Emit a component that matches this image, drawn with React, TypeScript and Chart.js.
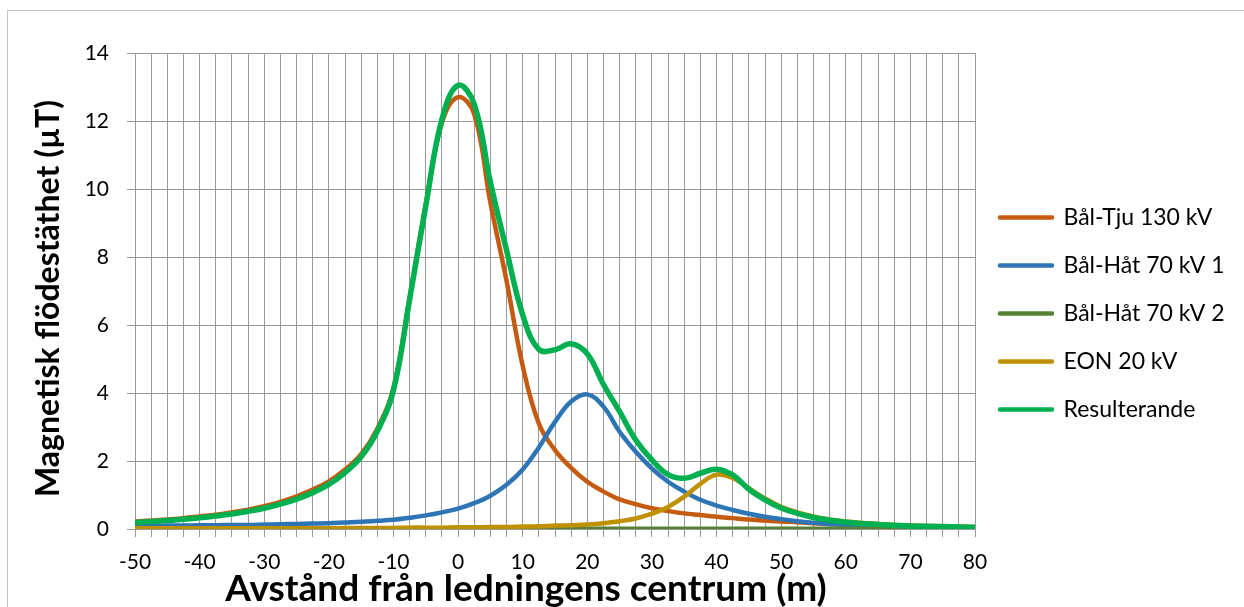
import React, { useEffect, useRef } from 'react';
import { Chart, registerables } from 'chart.js';

Chart.register(...registerables);

// ---------- data ----------
const distances = [
  -50, -47.5, -45, -42.5, -40, -37.5, -35, -32.5, -30, -27.5, -25, -22.5, -20, -17.5, -15, -12.5,
  -10, -7.5, -5, -2.5, 0, 2.5, 5, 7.5, 10, 12.5, 15, 17.5, 20, 22.5, 25, 27.5, 30, 32.5, 35, 37.5,
  40, 42.5, 45, 47.5, 50, 52.5, 55, 57.5, 60, 62.5, 65, 67.5, 70, 72.5, 75, 77.5, 80,
];

const balTju130 = [
  0.22, 0.25, 0.28, 0.32, 0.37, 0.42, 0.49, 0.57, 0.67, 0.8, 0.96, 1.16, 1.4, 1.75, 2.2, 2.95,
  4.15, 6.8, 9.55, 11.95, 12.7, 12.2, 9.6, 7.3, 4.8, 3.1, 2.32, 1.8, 1.39, 1.1, 0.87, 0.73,
  0.61, 0.53, 0.46, 0.41, 0.36, 0.32, 0.28, 0.25, 0.22, 0.2, 0.17, 0.15, 0.13, 0.12, 0.1, 0.09,
  0.08, 0.07, 0.06, 0.06, 0.05,
];

const balHat70_1 = [
  0.09, 0.09, 0.1, 0.1, 0.11, 0.11, 0.12, 0.12, 0.13, 0.14, 0.15, 0.16, 0.17, 0.19, 0.21, 0.24,
  0.27, 0.33, 0.4, 0.49, 0.6, 0.76, 0.98, 1.3, 1.75, 2.4, 3.15, 3.75, 3.96, 3.6, 2.86, 2.27,
  1.78, 1.39, 1.1, 0.86, 0.69, 0.56, 0.45, 0.36, 0.29, 0.23, 0.18, 0.15, 0.12, 0.1, 0.09, 0.07,
  0.06, 0.06, 0.05, 0.05, 0.04,
];

const balHat70_2 = [
  0.01, 0.01, 0.01, 0.01, 0.01, 0.01, 0.01, 0.01, 0.01, 0.01, 0.01, 0.01, 0.01, 0.01, 0.01, 0.01,
  0.01, 0.01, 0.01, 0.01, 0.01, 0.01, 0.01, 0.01, 0.01, 0.01, 0.01, 0.01, 0.01, 0.01, 0.01, 0.01,
  0.01, 0.01, 0.01, 0.01, 0.01, 0.01, 0.01, 0.01, 0.01, 0.01, 0.01, 0.01, 0.01, 0.01, 0.01, 0.01,
  0.01, 0.01, 0.01, 0.01, 0.01,
];

const eon20 = [
  0.02, 0.02, 0.02, 0.02, 0.02, 0.02, 0.02, 0.02, 0.02, 0.02, 0.02, 0.02, 0.02, 0.03, 0.03, 0.03,
  0.03, 0.04, 0.04, 0.04, 0.05, 0.05, 0.06, 0.06, 0.07, 0.08, 0.1, 0.11, 0.13, 0.17, 0.23, 0.31,
  0.45, 0.65, 0.95, 1.33, 1.6, 1.5, 1.2, 0.9, 0.65, 0.49, 0.37, 0.28, 0.22, 0.18, 0.15, 0.12,
  0.1, 0.09, 0.08, 0.07, 0.06,
];

const resulterande = [
  0.19, 0.22, 0.25, 0.29, 0.33, 0.38, 0.44, 0.52, 0.61, 0.73, 0.88, 1.07, 1.31, 1.66, 2.12, 2.87,
  4.08, 6.75, 9.5, 12.05, 13.05, 12.5, 10.2, 8.2, 6.3, 5.28, 5.27, 5.45, 5.15, 4.25, 3.45, 2.62,
  2.03, 1.6, 1.49, 1.64, 1.76, 1.59, 1.17, 0.86, 0.62, 0.46, 0.34, 0.26, 0.2, 0.16, 0.13, 0.11,
  0.09, 0.08, 0.07, 0.06, 0.05,
];

const seriesNames = ['Bål-Tju 130 kV', 'Bål-Håt 70 kV 1', 'Bål-Håt 70 kV 2', 'EON 20 kV', 'Resulterande'];
const seriesValues = [balTju130, balHat70_1, balHat70_2, eon20, resulterande];
const seriesColors = ['#C55A11', '#2E75B6', '#548235', '#BF9000', '#00B050'];
const seriesWidths = [4.5, 4.5, 4.5, 4.5, 5.5];

const xTitle = 'Avstånd från ledningens centrum (m)';
const yTitle = 'Magnetisk flödestäthet (µT)';

// ---------- layout constants ----------
const W = 1244;
const H = 607;
const AREA_LEFT = 135;
const AREA_RIGHT = 975;
const AREA_TOP = 53;
const AREA_BOTTOM = 529;
const LEGEND_CENTER = 313.5;
const LEG_FONT = 23;
const LEG_PAD = 25;
const LEG_BOX = 52;
const TICK_FONT = 21;
const FONT = 'Lato';

const axisTitlePlugin = {
  id: 'axisTitles',
  afterDraw(chart: any) {
    const ctx = chart.ctx as CanvasRenderingContext2D;
    ctx.save();
    ctx.fillStyle = '#000';
    ctx.textAlign = 'center';
    ctx.textBaseline = 'alphabetic';
    ctx.font = `bold 37px ${FONT}`;
    ctx.fillText(xTitle, 526, 601);
    ctx.font = `bold 32px ${FONT}`;
    ctx.translate(59, 298.5);
    ctx.rotate(-Math.PI / 2);
    ctx.fillText(yTitle, 0, 0);
    ctx.restore();
  },
};

export default function App() {
  const ref = useRef<HTMLCanvasElement>(null);

  useEffect(() => {
    const canvas = ref.current;
    if (!canvas) return;

    const mctx = document.createElement('canvas').getContext('2d')!;
    mctx.font = `${LEG_FONT}px ${FONT}`;
    const maxText = Math.max(...seriesNames.map((t) => mctx.measureText(t).width));
    const legendWidth = LEG_PAD + (LEG_BOX + LEG_FONT / 2 + maxText) + 10;
    const padRight = W - AREA_RIGHT - legendWidth;
    const legendBottom = 2 * LEGEND_CENTER - AREA_TOP;
    const padBottom = H - legendBottom;
    const xAxisHeight = legendBottom - AREA_BOTTOM;

    const datasets = seriesNames.map((name, i) => ({
      label: name,
      data: distances.map((x, j) => ({ x, y: seriesValues[i][j] })),
      borderColor: seriesColors[i],
      backgroundColor: seriesColors[i],
      borderWidth: seriesWidths[i],
      pointRadius: 0,
      fill: false,
      tension: 0.4,
      order: seriesNames.length - i,
    }));

    const chart = new Chart(canvas, {
      type: 'line',
      data: { datasets },
      options: {
        animation: false,
        responsive: false,
        maintainAspectRatio: false,
        layout: { padding: { top: AREA_TOP, left: 0, right: padRight, bottom: padBottom } },
        scales: {
          x: {
            type: 'linear',
            min: -50,
            max: 80,
            ticks: {
              stepSize: 2.5,
              autoSkip: false,
              maxRotation: 0,
              padding: 13,
              color: '#000',
              font: { family: FONT, size: TICK_FONT },
              callback: (v: any) => (Number(v) % 10 === 0 ? String(v) : ''),
            },
            grid: { color: '#999', lineWidth: 1, tickLength: 8 },
            border: { color: '#999' },
            afterFit: (s: any) => {
              s.height = xAxisHeight;
            },
          },
          y: {
            min: 0,
            max: 14,
            ticks: {
              stepSize: 2,
              padding: 18,
              color: '#000',
              font: { family: FONT, size: TICK_FONT },
            },
            grid: { color: '#999', lineWidth: 1, tickLength: 8 },
            border: { color: '#999' },
            afterFit: (s: any) => {
              s.width = AREA_LEFT;
            },
          },
        },
        plugins: {
          tooltip: { enabled: false },
          legend: {
            position: 'right',
            align: 'center',
            labels: {
              usePointStyle: true,
              pointStyleWidth: LEG_BOX,
              padding: LEG_PAD,
              color: '#000',
              font: { family: FONT, size: LEG_FONT },
              generateLabels: (ch: any) =>
                ch.data.datasets.map((ds: any, i: number) => ({
                  text: ds.label,
                  fillStyle: ds.borderColor,
                  strokeStyle: ds.borderColor,
                  lineWidth: 4.5,
                  lineCap: 'round',
                  pointStyle: 'line',
                  hidden: false,
                  datasetIndex: i,
                  fontColor: '#000',
                })),
            },
          },
        },
      },
      plugins: [axisTitlePlugin],
    });

    return () => chart.destroy();
  }, []);

  return (
    <>
      <div
        style={{
          position: 'fixed',
          left: 7,
          top: 10,
          width: 1400,
          height: 800,
          border: '1px solid #c4c4c4',
          boxSizing: 'border-box',
          background: '#fff',
        }}
      />
      <canvas
        ref={ref}
        width={W}
        height={H}
        style={{ position: 'fixed', left: 0, top: 0, width: W, height: H }}
      />
    </>
  );
}
